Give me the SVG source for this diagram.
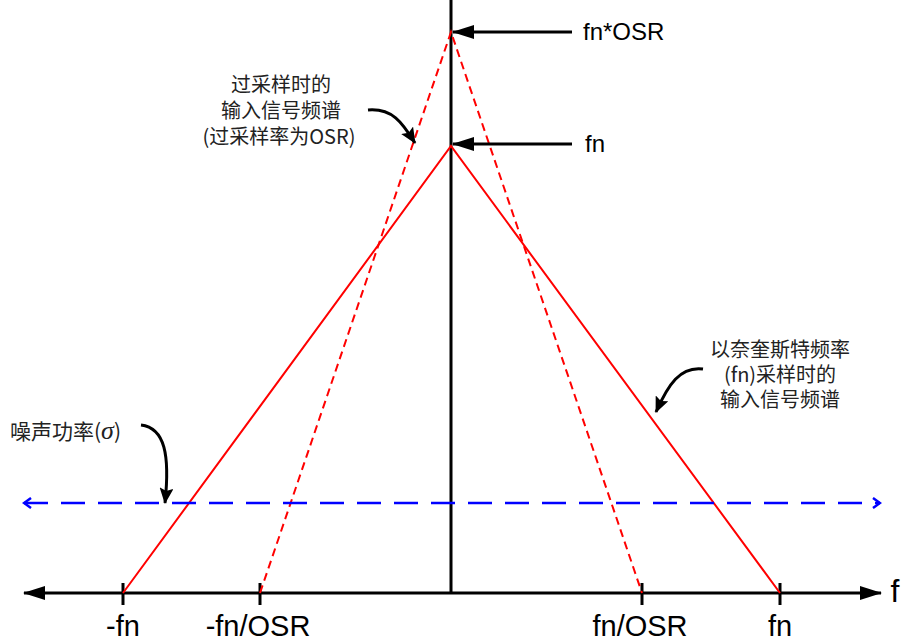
<svg xmlns="http://www.w3.org/2000/svg" width="905" height="641" viewBox="0 0 905 641">
<defs>
<marker id="bigah" markerWidth="22" markerHeight="14" refX="21" refY="7" orient="auto" markerUnits="userSpaceOnUse"><path d="M0,0 L22,7 L0,14 Z" fill="#000"/></marker>
<marker id="curah" markerWidth="16" markerHeight="14" refX="15" refY="7" orient="auto" markerUnits="userSpaceOnUse"><path d="M0,0 L16,7 L0,14 L3,7 Z" fill="#000"/></marker>
<marker id="chev" markerWidth="10" markerHeight="12" refX="8" refY="6" orient="auto-start-reverse" markerUnits="userSpaceOnUse"><path d="M1,1 L8,6 L1,11" fill="none" stroke="#0000ff" stroke-width="2.5"/></marker>
</defs>
<style>
.ax{stroke:#000;stroke-width:3;fill:none}
.tick{stroke:#000;stroke-width:3}
.red{stroke:#ff0000;stroke-width:2;fill:none}
.reddash{stroke:#ff0000;stroke-width:2;fill:none;stroke-dasharray:8 5}
.blue{stroke:#0000ff;stroke-width:2.5;fill:none;stroke-dasharray:24 13}
.cur{stroke:#000;stroke-width:3;fill:none}
.lbl{font-family:"Liberation Sans","Noto Sans CJK SC",sans-serif;fill:#000}
.cn{font-family:"Noto Sans CJK SC","Liberation Sans",sans-serif;font-size:20px;fill:#222;text-anchor:middle}
</style>
<g id="axes">
<line class="ax" x1="451" y1="0" x2="451" y2="593"/>
<line class="ax" x1="451" y1="593" x2="24" y2="593" marker-end="url(#bigah)"/>
<line class="ax" x1="451" y1="593" x2="881" y2="593" marker-end="url(#bigah)"/>
<line class="tick" x1="123" y1="583" x2="123" y2="605"/>
<line class="tick" x1="260" y1="583" x2="260" y2="605"/>
<line class="tick" x1="642" y1="583" x2="642" y2="605"/>
<line class="tick" x1="780" y1="583" x2="780" y2="605"/>
<text class="lbl" x="895" y="602" font-size="32" text-anchor="middle">f</text>
<text class="lbl" x="123" y="636" font-size="29" text-anchor="middle">-fn</text>
<text class="lbl" x="258" y="636" font-size="29" text-anchor="middle">-fn/OSR</text>
<text class="lbl" x="640" y="636" font-size="29" text-anchor="middle">fn/OSR</text>
<text class="lbl" x="780" y="636" font-size="29" text-anchor="middle">fn</text>
</g>
<g id="spectrum-fn">
<polyline class="red" points="123,593 451,146 780,593"/>
</g>
<g id="spectrum-osr">
<polyline class="reddash" points="260,593 451,32 642,593"/>
</g>
<g id="noise">
<line class="blue" x1="24" y1="503" x2="880" y2="503" marker-start="url(#chev)" marker-end="url(#chev)"/>
</g>
<g id="connectors">
<line class="cur" x1="572" y1="32" x2="453" y2="32" marker-end="url(#bigah)"/>
<line class="cur" x1="572" y1="144" x2="453" y2="144" marker-end="url(#bigah)"/>
<path class="cur" d="M368,110 C392,108 402,122 415,143" marker-end="url(#curah)"/>
<path class="cur" d="M703,369 C680,366 668,385 656,412" marker-end="url(#curah)"/>
<path class="cur" d="M141,425 C165,428 170,455 165,503" marker-end="url(#curah)"/>
</g>
<g id="label-osr-peak">
<text class="lbl" x="583" y="40" font-size="24">fn*OSR</text>
</g>
<g id="label-fn-peak">
<text class="lbl" x="585" y="152" font-size="24">fn</text>
</g>
<g id="label-osr">
<text class="cn" x="281" y="92">过采样时的</text>
<text class="cn" x="281" y="118">输入信号频谱</text>
<text class="cn" x="279" y="144">(过采样率为OSR)</text>
</g>
<g id="label-nyquist">
<text class="cn" x="780" y="357">以奈奎斯特频率</text>
<text class="cn" x="780" y="382">(fn)采样时的</text>
<text class="cn" x="780" y="407">输入信号频谱</text>
</g>
<g id="label-noise">
<text class="cn" x="10" y="439" style="text-anchor:start;font-size:21px">噪声功率(<tspan font-style="italic" font-family="Liberation Serif,serif" font-size="26">σ</tspan>)</text>
</g>
</svg>
